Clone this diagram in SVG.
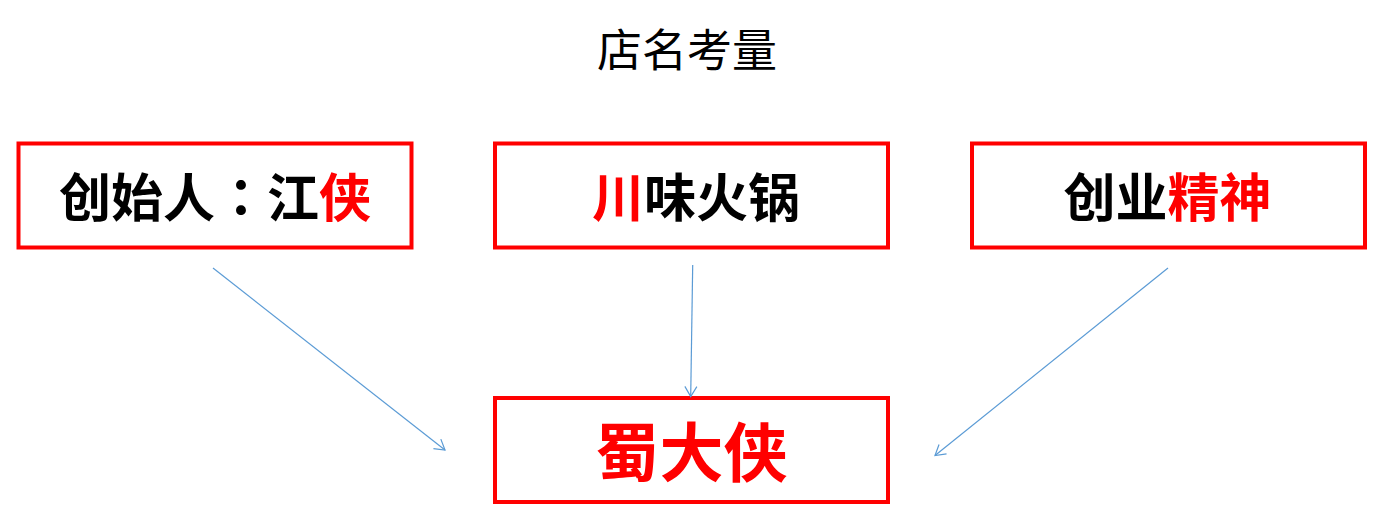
<svg xmlns="http://www.w3.org/2000/svg" width="1384" height="529" viewBox="0 0 1384 529">
<style>
.box{fill:#FFFFFF;stroke:#FF0000;stroke-width:4}
.lbl{font-family:"Noto Sans CJK SC","Noto Sans",sans-serif;font-weight:700;font-size:52px;fill:#000000}
.red{fill:#FF0000}
.colon{font-family:"Noto Sans CJK TC","Noto Sans CJK SC",sans-serif}
.title{font-family:"Noto Sans CJK SC","Noto Sans",sans-serif;font-weight:400;font-size:45px;fill:#000000}
.conn{stroke:#5B9BD5;stroke-width:1.2;fill:none}
</style>
<defs>
<marker id="arr" markerUnits="userSpaceOnUse" markerWidth="20" markerHeight="20" viewBox="-12 -10 14 20" refX="0" refY="0" orient="auto">
<path d="M-10,-6 L0,0 L-10,6" fill="none" stroke="#5B9BD5" stroke-width="1.2"/>
</marker>
</defs>
<rect width="1384" height="529" fill="#FFFFFF"/>
<text class="title" x="687" y="47" text-anchor="middle" dominant-baseline="central">店名考量</text>
<g id="node-founder">
<rect class="box" x="18.5" y="143.5" width="393" height="104"/>
<text class="lbl" x="215" y="194" text-anchor="middle" dominant-baseline="central">创始人<tspan class="colon">：</tspan>江<tspan class="red">侠</tspan></text>
</g>
<g id="node-hotpot">
<rect class="box" x="495" y="143.5" width="393" height="104"/>
<text class="lbl" x="696" y="194" text-anchor="middle" dominant-baseline="central"><tspan class="red">川</tspan>味火锅</text>
</g>
<g id="node-spirit">
<rect class="box" x="972" y="143.5" width="393" height="104"/>
<text class="lbl" x="1167.5" y="194" text-anchor="middle" dominant-baseline="central">创业<tspan class="red">精神</tspan></text>
</g>
<g id="node-result">
<rect class="box" x="495" y="398" width="393" height="104"/>
<text class="lbl red" style="font-size:64px" x="691.5" y="448" text-anchor="middle" dominant-baseline="central">蜀大侠</text>
</g>
<g id="connectors">
<line class="conn" x1="213" y1="268" x2="445" y2="450" marker-end="url(#arr)"/>
<line class="conn" x1="692.7" y1="265" x2="690.7" y2="396.5" marker-end="url(#arr)"/>
<line class="conn" x1="1168" y1="268" x2="935" y2="455.5" marker-end="url(#arr)"/>
</g>
</svg>
